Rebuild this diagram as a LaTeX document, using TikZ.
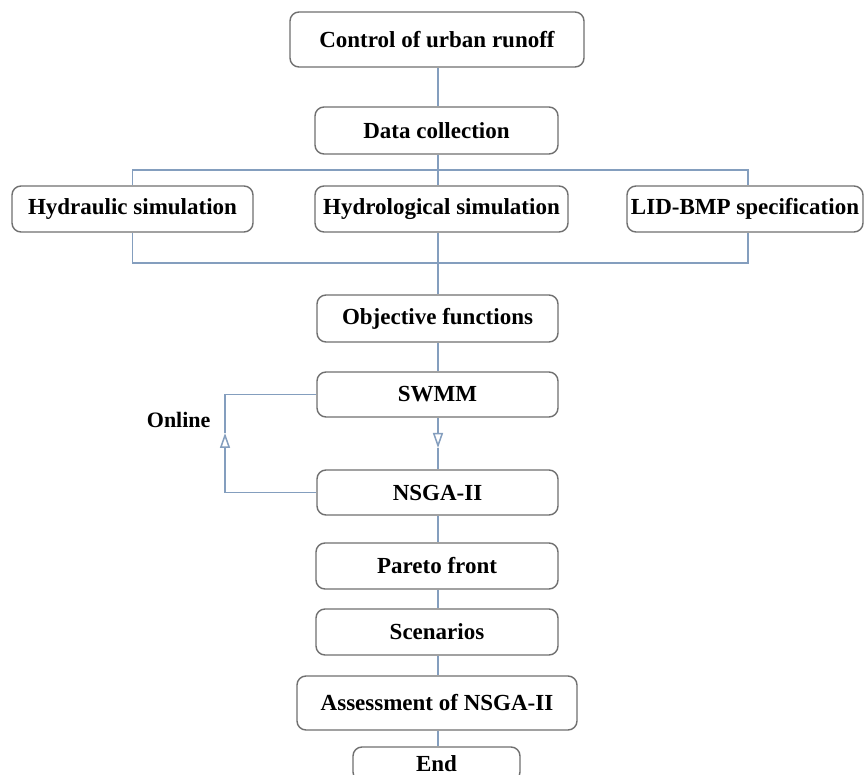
\documentclass[tikz,border=0pt]{standalone}
\usepackage{fontspec}
\setmainfont{Liberation Serif}
\usetikzlibrary{arrows.meta}

\definecolor{boxgray}{RGB}{112,112,112}
\definecolor{linkblue}{RGB}{132,158,190}

\tikzset{
	stepbox/.style={shape=rectangle,rounded corners=9pt,draw=boxgray,line width=1.4pt,
		fill=white,inner sep=2pt,font=\fontsize{23}{26}\selectfont\bfseries},
	link/.style={draw=linkblue,line width=1.5pt},
	opentip/.style={-{Triangle[open,length=15pt,width=10pt]}}
}

\begin{document}
\begin{tikzpicture}[x=1pt,y=-1pt]

	\clip (0,0) rectangle (865,775);
	\fill[white] (0,0) rectangle (865,775);

	\node[stepbox,minimum width=294pt,minimum height=55pt] (runoff)   at (437, 39.5)  {Control of urban runoff};
	\node[stepbox,minimum width=243pt,minimum height=47pt] (data)     at (436.5, 130.5) {Data collection};
	\node[stepbox,minimum width=241pt,minimum height=46pt] (hydraul)  at (132.5, 209) {Hydraulic simulation};
	\node[stepbox,minimum width=253pt,minimum height=46pt] (hydrolog) at (441.5, 209) {Hydrological simulation};
	\node[stepbox,minimum width=236pt,minimum height=46pt] (lid)      at (745, 209)   {LID-BMP specification};
	\node[stepbox,minimum width=241pt,minimum height=47pt] (objfun)   at (437.5, 318.5) {Objective functions};
	\node[stepbox,minimum width=241pt,minimum height=45pt] (swmm)     at (437.5, 394.5) {SWMM};
	\node[stepbox,minimum width=241pt,minimum height=45pt] (nsga)     at (437.5, 492.5) {NSGA-II};
	\node[stepbox,minimum width=242pt,minimum height=46pt] (pareto)   at (437, 566)   {Pareto front};
	\node[stepbox,minimum width=242pt,minimum height=46pt] (scen)     at (437, 632)   {Scenarios};
	\node[stepbox,minimum width=280pt,minimum height=54pt] (assess)   at (437, 703)   {Assessment of NSGA-II};
	\node[stepbox,minimum width=167pt,minimum height=34pt] (finish)   at (436.5, 764) {End};

	\node[font=\fontsize{22}{26}\selectfont\bfseries,anchor=east] (online) at (214, 420) {Online};

	\coordinate (bustop) at (748, 170);
	\coordinate (busbot) at (748, 263);
	\coordinate (loop)   at (225, 433);
	\coordinate (down)   at (438, 448);

	% main column
	\draw[link] (runoff.south -| down) -- (data.north -| down);
	\draw[link] (data.south -| down) -- (hydrolog.north -| down);
	\draw[link] (hydrolog.south -| down) -- (objfun.north -| down);
	\draw[link] (objfun.south -| down) -- (swmm.north -| down);
	\draw[link,opentip] (swmm.south -| down) -- (down);
	\draw[link] (down) -- (nsga.north -| down);
	\draw[link] (nsga.south -| down) -- (pareto.north -| down);
	\draw[link] (pareto.south -| down) -- (scen.north -| down);
	\draw[link] (scen.south -| down) -- (assess.north -| down);
	\draw[link] (assess.south -| down) -- (finish.north -| down);

	% side branches
	\draw[link] (hydraul.north) |- (bustop) -- (lid.north -| bustop);
	\draw[link] (hydraul.south) |- (busbot) -- (lid.south -| busbot);

	% online loop
	\draw[link,opentip] (nsga.west) -| (loop);
	\draw[link] (loop) |- (swmm.west);

\end{tikzpicture}
\end{document}
